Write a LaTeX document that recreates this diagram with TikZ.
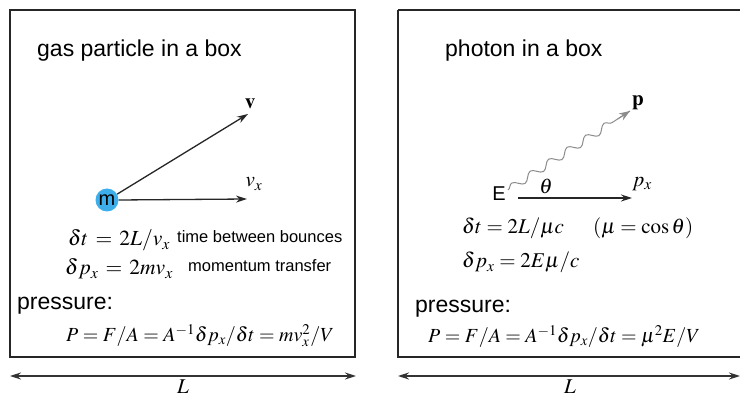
\documentclass[tikz,border=0pt]{standalone}
\usepackage{mathptmx}
\usepackage[no-math]{fontspec}
\setmainfont{Liberation Sans}
\usetikzlibrary{arrows.meta,decorations.pathmorphing,calc}
\definecolor{ballblue}{HTML}{3DAEEA}
\tikzset{
  boxline/.style={draw=black!85, line width=1.5pt},
  vec/.style={draw=black!85, line width=1.3pt, -{Stealth[length=11pt,width=7pt]}},
  dim/.style={draw=black!80, line width=1.3pt, {Stealth[length=11pt,width=7pt]}-{Stealth[length=11pt,width=7pt]}},
  title/.style={font=\fontsize{23}{27}\selectfont, anchor=base west, inner sep=0pt},
  small/.style={font=\fontsize{16.5}{19}\selectfont, anchor=base west, inner sep=0pt},
  eqbig/.style={font=\fontsize{21.5}{25}\selectfont, anchor=base west, inner sep=0pt},
  eqmid/.style={font=\fontsize{21}{25}\selectfont, anchor=base west, inner sep=0pt},
  eq/.style={font=\fontsize{20}{24}\selectfont, anchor=base west, inner sep=0pt},
  lab/.style={font=\fontsize{21}{24}\selectfont, inner sep=0pt},
}
\begin{document}
\begin{tikzpicture}[x=1pt,y=-1pt]
\useasboundingbox (0,0) rectangle (740,398);
\fill[white] (0,0) rectangle (740,398);
% boxes
\draw[boxline] (10,10) rectangle (355,357);
\draw[boxline] (398,10) -- (745,10) (398,10) -- (398,357) -- (745,357);
% dimension arrows
\coordinate (l1) at (10,376); \coordinate (r1) at (356,376);
\coordinate (l2) at (398,376); \coordinate (r2) at (740,376);
\draw[dim] (l1) -- (r1);
\draw[dim] (l2) -- (r2);
\node[lab] (L1) at (183,387) {$L$};
\node[lab] (L2) at (570,387) {$L$};
% left panel
\node[title] (t1) at (37,57) {gas particle in a box};
\node[circle, fill=ballblue, minimum size=23pt, inner sep=0pt, font=\fontsize{20}{22}\selectfont] (m) at (107,200) {m};
\coordinate (vend) at (248,114);
\coordinate (vxend) at (247,199);
\draw[vec] (m.30) -- (vend);
\draw[vec] (m.east) -- (vxend);
\node[lab] (vlab) at (250,104) {$\mathbf{v}$};
\node[lab] (vxlab) at (254,184) {$v_x$};
\node[eqbig] (e1) at (68,246) {$\delta t \,=\, 2L/v_x$};
\node[small] (d1) at (177,243) {time between bounces};
\node[eqbig] (e2) at (65,275) {$\delta p_x \,=\, 2mv_x$};
\node[small] (d2) at (188,272) {momentum transfer};
\node[title] (pr1) at (17,310) {pressure:};
\node[eq] (e3) at (66,342) {$P = F/A = A^{-1}\delta p_x/\delta t = mv_x^2/V$};
% right panel
\node[title] (t2) at (445,57) {photon in a box};
\node[font=\fontsize{20}{22}\selectfont, inner sep=0pt] (E) at (499,194) {E};
\coordinate (pstart) at (508,190);
\coordinate (pend) at (630,111);
\coordinate (pmid) at ($(pstart)!0.9!(pend)$);
\draw[draw=black!45, line width=1pt, decorate, decoration={snake, amplitude=3.8pt, segment length=22pt, post length=12pt}] (pstart) -- (pend);
\draw[draw=black!45, line width=1pt, -{Stealth[length=11pt,width=8pt]}] (pmid) -- (pend);
\node[lab] (plab) at (638,103) {$\mathbf{p}$};
\node[lab] (th) at (546,186) {$\theta$};
\coordinate (pxs) at (518,198);
\coordinate (pxe) at (632,198);
\draw[vec] (pxs) -- (pxe);
\node[lab] (pxlab) at (642,184) {$p_x$};
\node[eqmid] (f1) at (462,234) {$\delta t = 2L/\mu c$};
\node[eqmid] (f1b) at (593,234) {$(\mu = \cos\theta)$};
\node[eqmid] (f2) at (462,268) {$\delta p_x = 2E\mu/c$};
\node[title] (pr2) at (415,313) {pressure:};
\node[eq] (f3) at (428,343) {$P = F/A = A^{-1}\delta p_x/\delta t = \mu^2 E/V$};
\end{tikzpicture}
\end{document}
